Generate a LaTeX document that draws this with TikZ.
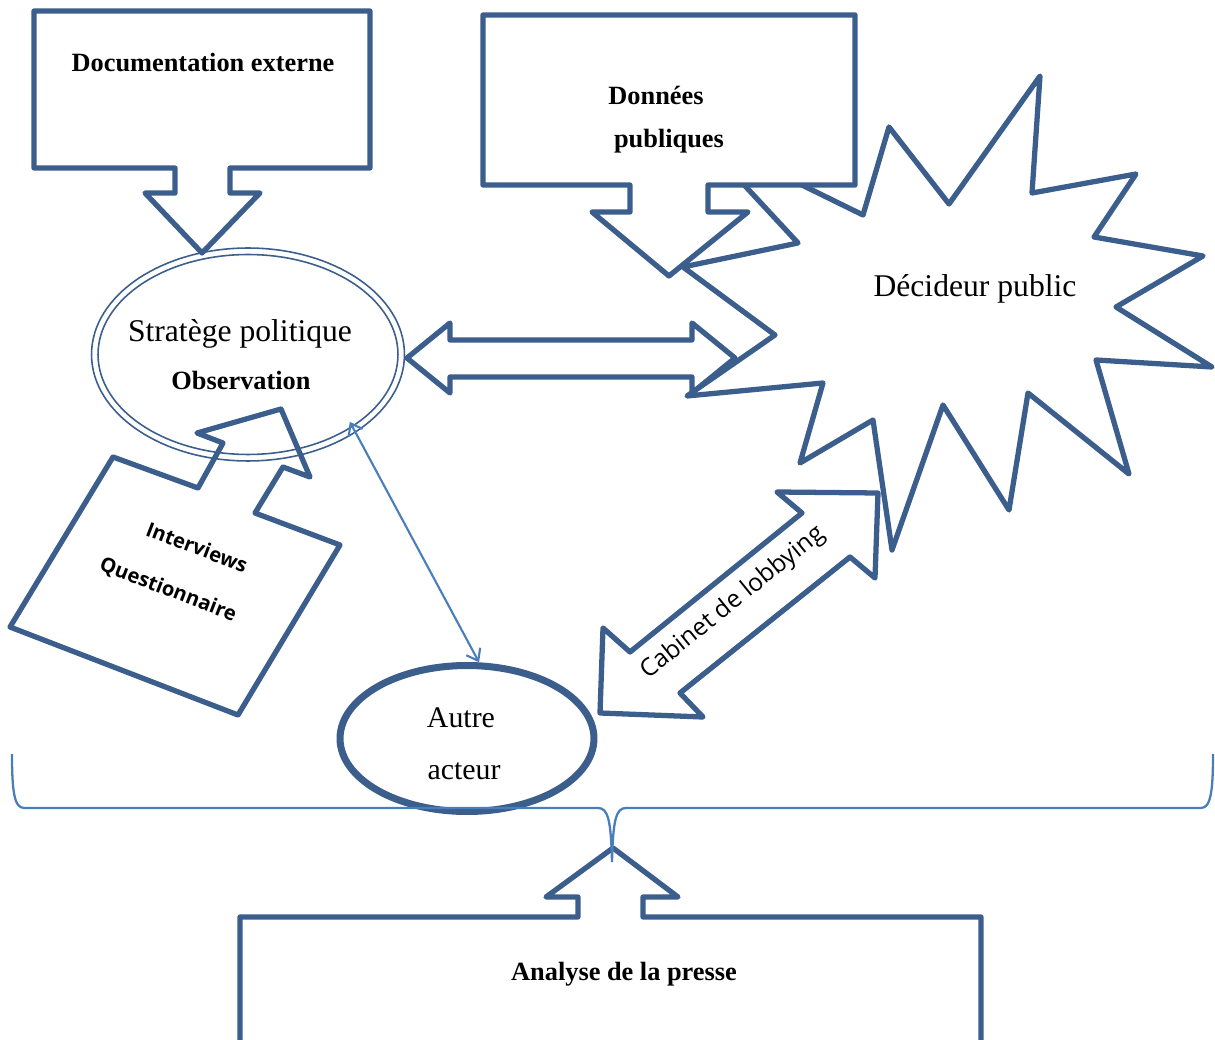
\documentclass[tikz,border=0pt]{standalone}
\usepackage{fontspec}
\setmainfont{Liberation Serif}
\newfontfamily\roundsans{Open Sans}
\usetikzlibrary{positioning}
\usetikzlibrary{shapes.geometric}
\usetikzlibrary{arrows.meta}

\definecolor{shapeblue}{RGB}{59,94,140}
\definecolor{linkblue}{RGB}{74,126,187}

\begin{document}
\begin{tikzpicture}[x = 0.02cm, y = -0.02cm,
	callout/.style = {draw = shapeblue, line width = 3pt, line join = round, fill = white},
	boldlabel/.style = {font = \fontsize{15}{18}\selectfont\bfseries, anchor = base},
	plainlabel/.style = {font = \fontsize{18}{21}\selectfont, anchor = base},
	sidetext/.style = {font = \roundsans\fontsize{11.5}{13}\selectfont\bfseries}]
	\useasboundingbox (0, 0) rectangle (1215, 1040);

	\draw[callout] (407, 358) -- (450, 323) -- (450, 340) -- (692, 340) -- (692, 323) -- (735, 358) -- (692, 393) -- (692, 377) -- (450, 377) -- (450, 393) -- cycle;

	\draw[callout] (863, 215) -- (889, 127) -- (949, 204) -- (1040, 76) -- (1032, 193) -- (1136, 174) -- (1094, 237) -- (1203, 256) -- (1116, 307) -- (1212, 367) -- (1096, 360) -- (1129, 474) -- (1028, 393) -- (1009, 510) -- (943, 405) -- (892, 550) -- (873, 420) -- (800, 463) -- (823, 383) -- (687, 396) -- (775, 335) -- (683, 267) -- (798, 243) -- (696, 133) -- cycle;
	\node[plainlabel] (decideur) at (975, 297) {Décideur public};

	\draw[callout] (483, 15) -- (855, 15) -- (855, 185) -- (708, 185) -- (708, 212) -- (748, 212) -- (669, 276) -- (592, 212) -- (630, 212) -- (630, 185) -- (483, 185) -- cycle;
	\node[boldlabel] (donnees) at (656, 105) {Données};
	\node[boldlabel] (publiques) at (669, 148) {publiques};

	\draw[callout] (34, 11) -- (370, 11) -- (370, 168) -- (230, 168) -- (230, 193) -- (260, 193) -- (202, 253) -- (145, 193) -- (175, 193) -- (175, 168) -- (34, 168) -- cycle;
	\node[boldlabel] (documentation) at (203, 72) {Documentation externe};

	\node[ellipse, draw = shapeblue, line width = 0.9pt, minimum width = 6.26cm, minimum height = 4.26cm, inner sep = 0pt] (strategie) at (248, 354.5) {};
	\draw[shapeblue, line width = 0.9pt] (strategie.center) ellipse [x radius = 3cm, y radius = 2cm];
	\node[plainlabel] (strategetext) at (240, 342) {Stratège politique};
	\node[boldlabel] (observation) at (241, 390) {Observation};

	\draw[callout, fill = none] (113, 457) -- (198, 488) -- (223, 443) -- (197, 433) -- (281, 409) -- (310, 477) -- (283, 467) -- (255, 513) -- (340, 545) -- (238, 715) -- (10, 627) -- cycle;
	\node[sidetext, rotate = -21] (interviews) at (197, 547) {Interviews};
	\node[sidetext, rotate = -21] (questionnaire) at (168, 590) {Questionnaire};

	\draw[callout] (600, 713) -- (603, 628) -- (630, 652) -- (802, 513) -- (777, 492) -- (878, 493) -- (875, 578) -- (850, 557) -- (680, 693) -- (703, 717) -- cycle;
	\node[sidetext, font = \roundsans\fontsize{14}{16}\selectfont, rotate = 39] (cabinet) at (733, 603) {Cabinet de lobbying};

	\node[ellipse, draw = shapeblue, line width = 4pt, minimum width = 5.08cm, minimum height = 2.92cm, inner sep = 0pt] (autre) at (467, 738.5) {};
	\node[font = \fontsize{17}{20}\selectfont, anchor = base] (autretext) at (461, 727) {Autre};
	\node[font = \fontsize{17}{20}\selectfont, anchor = base] (acteur) at (464, 780) {acteur};

	\draw[linkblue, line width = 1.2pt, shorten < = -7pt, {Straight Barb[length = 6pt, width = 9pt]}-{Straight Barb[length = 6pt, width = 9pt]}] (strategie.-36) -- (autre.81);

	\draw[callout] (240, 1070) -- (240, 917) -- (578, 917) -- (578, 897) -- (546, 897) -- (613, 848) -- (678, 897) -- (643, 897) -- (643, 917) -- (981, 917) -- (981, 1070) -- cycle;
	\node[boldlabel] (presse) at (624, 980) {Analyse de la presse};

	\draw[linkblue, line width = 1.3pt] (12, 754) .. controls (12, 790) and (14, 808) .. (24, 808) -- (598, 808) .. controls (608, 808) and (611, 820) .. (612, 862) .. controls (613, 820) and (616, 808) .. (626, 808) -- (1201, 808) .. controls (1211, 808) and (1213, 790) .. (1213, 754);
\end{tikzpicture}
\end{document}
